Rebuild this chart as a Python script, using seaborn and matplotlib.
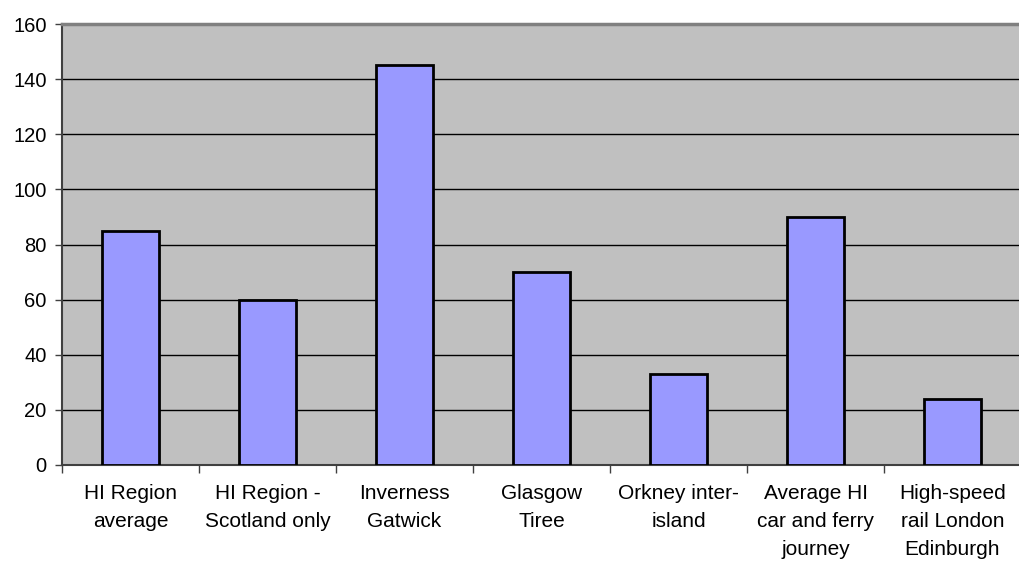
import matplotlib
matplotlib.use("Agg")
import matplotlib.pyplot as plt
import seaborn as sns
import pandas as pd
import numpy as np

categories = [
    "HI Region\naverage",
    "HI Region -\nScotland only",
    "Inverness\nGatwick",
    "Glasgow\nTiree",
    "Orkney inter-\nisland",
    "Average HI\ncar and ferry\njourney",
    "High-speed\nrail London\nEdinburgh",
]
values = [85, 60, 145, 70, 33, 90, 24]
y_ticks = [0, 20, 40, 60, 80, 100, 120, 140, 160]

df = pd.DataFrame({"route": categories, "value": values})

sns.set_style("white")
plt.rcParams["font.family"] = ["Liberation Sans", "DejaVu Sans"]
plt.rcParams["xtick.bottom"] = True
plt.rcParams["ytick.left"] = True

fig = plt.figure(figsize=(10.19, 5.61), dpi=100)
ax = fig.add_axes([62 / 1019, 96 / 561, 959 / 1019, 441 / 561])
ax.set_facecolor("#C0C0C0")

sns.barplot(data=df, x="route", y="value", ax=ax, color="#9999FF",
            width=0.41, saturation=1, edgecolor="black", linewidth=2,
            zorder=3)

ax.set_ylim(0, 160)
ax.set_xlim(-0.5, len(categories) - 0.5)
ax.set_yticks(y_ticks)
ax.set_yticklabels([str(t) for t in y_ticks], fontsize=14.5, color="black")
ax.yaxis.grid(True, color="black", linewidth=1, zorder=1)
ax.set_axisbelow(True)

# category labels centred, tick marks on category boundaries
ax.set_xticks(range(len(categories)))
ax.set_xticklabels(categories, fontsize=15, linespacing=1.6, color="black")
ax.tick_params(axis="x", which="major", length=0, pad=14)
ax.set_xticks(np.arange(-0.5, len(categories), 1.0), minor=True)
ax.tick_params(axis="x", which="minor", bottom=True, length=5.5, width=1,
               color="#404040", direction="out")
ax.tick_params(axis="y", left=True, length=5, width=1, color="#404040",
               direction="out", pad=6)

ax.set_xlabel("")
ax.set_ylabel("")

for side in ["left", "bottom"]:
    ax.spines[side].set_color("#404040")
    ax.spines[side].set_linewidth(1.5)
ax.spines["top"].set_color("#808080")
ax.spines["top"].set_linewidth(2.5)
ax.spines["right"].set_visible(False)

fig.savefig("out.png", dpi=100, facecolor="white")
